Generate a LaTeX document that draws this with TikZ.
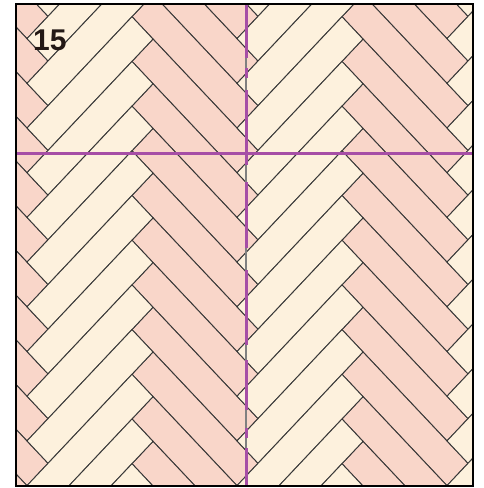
\documentclass[tikz,border=0pt]{standalone}
\usepackage{fontspec}
\setsansfont{Liberation Sans}
\begin{document}
\begin{tikzpicture}[x=1pt,y=-1pt]
  % Colors
  \definecolor{pinkcol}{RGB}{249,214,201}
  \definecolor{creamcol}{RGB}{253,241,221}
  \definecolor{linecol}{RGB}{55,55,55}
  \definecolor{guidecol}{RGB}{166,78,166}
  \definecolor{numcol}{RGB}{35,24,21}
  %
  \def\sx{27}      % first seam
  \def\dx{105}     % seam spacing
  \def\dy{111.3}   % drop along a board
  \def\ax{21}
  \def\ay{22.35}
  \def\ph{16.7}
  %
  \tikzset{
    board/.style={draw=linecol, line width=0.9pt},
    guide/.style={draw=guidecol, line width=2.6pt},
    frame/.style={draw=black, line width=2pt},
  }
  \useasboundingbox (0,0) rectangle (483,488);
  %
  %%% BOARDS %%%
  \begin{scope}
    \clip (16,4.3) rectangle (472.7,486.3);
    % pink columns
    \foreach \j in {-1,1,3} {
      \foreach \k in {-4,...,13} {
        \pgfmathsetmacro{\px}{\sx+\j*\dx}
        \pgfmathsetmacro{\py}{\ph+\k*2*\ay}
        \filldraw[board, fill=pinkcol] (\px,\py) -- ++(\ax,-\ay) -- ++(\dx,\dy) -- ++(-\ax,\ay) -- cycle;
      }
    }
    % cream columns
    \foreach \j in {0,2,4} {
      \foreach \k in {-5,...,12} {
        \pgfmathsetmacro{\px}{\sx+\j*\dx}
        \pgfmathsetmacro{\py}{\ph+\dy+\k*2*\ay}
        \filldraw[board, fill=creamcol] (\px,\py) -- ++(\ax,\ay) -- ++(\dx,-\dy) -- ++(-\ax,-\ay) -- cycle;
      }
    }
  \end{scope}
  %
  %%% GUIDE LINES %%%
  \coordinate (vtop) at (246.2,4.3);
  \coordinate (vbot) at (246.2,486.3);
  \draw[draw=gray, line width=1.6pt] (vtop) -- (vbot);
  \foreach \a/\b in {4.3/58, 68/78, 90/165, 182/248, 270/345, 360/410, 428/438, 448/486.3} {
    \draw[guide] (246.2,\a) -- (246.2,\b);
  }
  \coordinate (hleft) at (16,153.3);
  \coordinate (hright) at (472.7,153.3);
  \draw[guide, line width=3pt] (hleft) -- (hright);
  %
  %%% FRAME AND NUMBER %%%
  \draw[frame] (16,4.3) rectangle (472.7,486.3);
  \node[anchor=base west, inner sep=0pt, text=numcol,
        font=\sffamily\bfseries\fontsize{30}{30}\selectfont] (num) at (33,50) {15};
\end{tikzpicture}
\end{document}
